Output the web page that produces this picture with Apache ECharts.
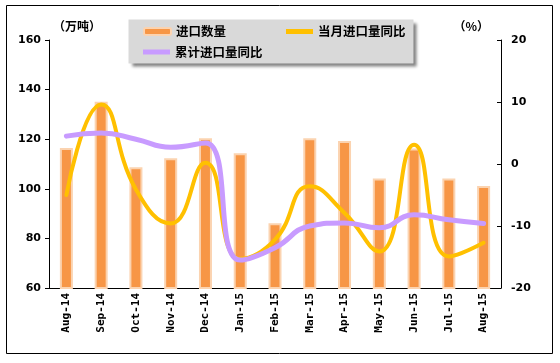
<!DOCTYPE html>
<html><head><meta charset="utf-8">
<script src="https://cdn.jsdelivr.net/npm/echarts@6/dist/echarts.min.js"></script>
<style>html,body{margin:0;padding:0;background:#fff}#c{width:560px;height:363px}</style>
</head><body><div id="c"></div>
<script>
var categories = ['Aug-14','Sep-14','Oct-14','Nov-14','Dec-14','Jan-15','Feb-15','Mar-15','Apr-15','May-15','Jun-15','Jul-15','Aug-15'];
var importVolume = [116.5, 135.1, 108.7, 112.3, 120.4, 114.3, 86.1, 120.4, 119.3, 104.2, 116.3, 104.2, 101.1];
var monthlyYoY = [-5.0, 9.6, -4.1, -9.6, 0.2, -15.3, -12.2, -3.6, -7.9, -14.1, 3.1, -14.9, -12.7];
var cumulativeYoY = [4.5, 5.0, 4.0, 2.7, 3.4, -15.5, -13.5, -10.0, -9.5, -10.3, -8.2, -9.0, -9.6];
var leftTicks = {min: 60, max: 160, interval: 20};
var rightTicks = {min: -20, max: 20, interval: 10};

var chart = echarts.init(document.getElementById('c'));
var lblFont = {color:'#000', fontWeight:'bold', fontSize:11, fontFamily:'DejaVu Sans'};
var legText = {color:'#000', fontWeight:'bold', fontSize:12.5, lineHeight:14, fontFamily:'Noto Sans CJK SC'};
var nameFont = {color:'#000', fontWeight:'bold', fontSize:12, fontFamily:'Noto Sans CJK SC'};
chart.setOption({
  animation: false,
  backgroundColor: '#fff',
  graphic: [
    {type:'rect', z:0, shape:{x:6.5, y:5.5, width:546, height:348}, style:{fill:'none', stroke:'#000', lineWidth:1}},
    {type:'rect', z:0, shape:{x:128.5, y:19.5, width:285, height:44}, style:{fill:'#d9d9d9', shadowBlur:3, shadowOffsetX:3, shadowOffsetY:3, shadowColor:'rgba(0,0,0,0.5)'}}
  ],
  legend: [
    {data:['进口数量'], left:143, top:24.5, padding:0, itemWidth:27, itemHeight:7, textStyle:legText, z:5},
    {data:[{name:'当月进口量同比', icon:'rect'}], left:286, top:24.5, padding:0, itemWidth:27, itemHeight:5, textStyle:legText, z:5},
    {data:[{name:'累计进口量同比', icon:'rect'}], left:143, top:45, padding:0, itemWidth:27, itemHeight:5, textStyle:legText, z:5}
  ],
  grid: {left:49, right:59, top:40, bottom:75, containLabel:false},
  xAxis: {
    type:'category', data:categories, boundaryGap:true,
    axisLine:{onZero:false, lineStyle:{color:'#000', width:1}},
    axisTick:{inside:true, length:4, alignWithLabel:false, interval:0, lineStyle:{color:'#000'}},
    axisLabel:{rotate:90, interval:0, margin:5, color:'#000', fontWeight:'bold', fontSize:11, fontFamily:'DejaVu Sans Mono'}
  },
  yAxis: [
    {type:'value', min:leftTicks.min, max:leftTicks.max, interval:leftTicks.interval, position:'left',
     name:'（万吨）', nameLocation:'end', nameGap:8,
     nameTextStyle:Object.assign({align:'left', padding:[0,0,0,4]}, nameFont),
     axisLine:{show:true, onZero:false, lineStyle:{color:'#000'}},
     axisTick:{show:true, inside:false, length:4, lineStyle:{color:'#000'}},
     axisLabel:Object.assign({margin:8}, lblFont),
     splitLine:{show:false}},
    {type:'value', min:rightTicks.min, max:rightTicks.max, interval:rightTicks.interval, position:'right',
     name:'（%）', nameLocation:'end', nameGap:8,
     nameTextStyle:Object.assign({align:'right', padding:[0,12,0,0]}, nameFont),
     axisLine:{show:true, onZero:false, lineStyle:{color:'#000'}},
     axisTick:{show:true, inside:true, length:4, lineStyle:{color:'#000'}},
     axisLabel:Object.assign({margin:10}, lblFont),
     splitLine:{show:false}}
  ],
  series: [
    {name:'进口数量', type:'bar', data:importVolume, barWidth:13, yAxisIndex:0,
     itemStyle:{color:'#f79646', borderColor:'#fbd3b0', borderWidth:2}},
    {name:'当月进口量同比', type:'line', data:monthlyYoY, yAxisIndex:1, smooth:0.5,
     symbol:'none', showSymbol:false, lineStyle:{color:'#ffc000', width:4, cap:'round'}, itemStyle:{color:'#ffc000'}},
    {name:'累计进口量同比', type:'line', data:cumulativeYoY, yAxisIndex:1, smooth:0.5,
     symbol:'none', showSymbol:false, lineStyle:{color:'#c89bff', width:5, cap:'round'}, itemStyle:{color:'#c89bff'}}
  ]
});
</script></body></html>
